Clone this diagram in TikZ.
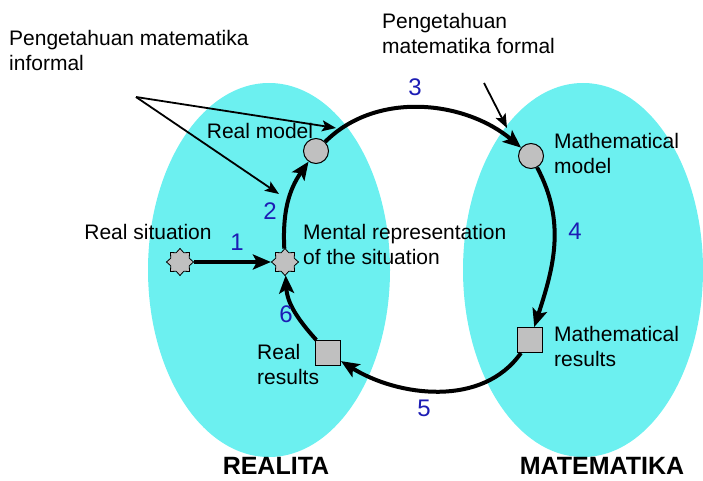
\documentclass[tikz,border=0pt]{standalone}
\usepackage{fontspec}
\setmainfont{Liberation Sans}
\usetikzlibrary{arrows.meta, positioning, shapes.geometric}
\definecolor{sheetcyan}{RGB}{108,240,240}
\definecolor{markgray}{RGB}{192,192,192}
\definecolor{stepblue}{RGB}{28,28,180}

\begin{document}
\begin{tikzpicture}[x=1pt, y=1pt, font=\fontsize{21}{25}\selectfont,
  starmark/.style={draw, star, star points=8, star point ratio=1.35, fill=markgray, minimum size=27pt, inner sep=0pt, line width=0.8pt},
  dotmark/.style={draw, circle, fill=markgray, minimum size=25pt, inner sep=0pt, line width=1pt},
  boxmark/.style={draw, rectangle, fill=markgray, minimum size=25pt, inner sep=0pt, line width=1pt},
  cycle/.style={line width=4pt, -{Stealth[length=18pt, width=15pt, inset=4pt]}},
  pointer/.style={line width=1.8pt, -{Stealth[length=14pt, width=11pt, inset=3pt]}},
  stepnum/.style={text=stepblue, font=\fontsize{24}{28}\selectfont},
  caption/.style={align=left, inner sep=0pt}]
  \useasboundingbox (0,0) rectangle (703,480);

  % Two worlds
  \fill[sheetcyan] (269,210) ellipse [x radius=121, y radius=187];
  \fill[sheetcyan] (583,210) ellipse [x radius=120, y radius=187];
  \node[font=\fontsize{25}{30}\selectfont\bfseries] (realita) at (276,14) {REALITA};
  \node[font=\fontsize{25}{30}\selectfont\bfseries] (matematika) at (602,14) {MATEMATIKA};

  % Stages of the cycle
  \node[starmark] (situation) at (180,218) {};
  \node[starmark] (mental) at (285,218) {};
  \node[dotmark] (realmodel) at (316,329) {};
  \node[dotmark] (mathmodel) at (531,324) {};
  \node[boxmark] (mathresults) at (530,140) {};
  \node[boxmark] (realresults) at (328,127) {};

  \node[caption, anchor=center] (situationtext) at (148,248) {Real situation};
  \node[caption, anchor=west] (mentaltext) at (303,236) {Mental representation\\of the situation};
  \node[caption, anchor=center] (realmodeltext) at (260,349) {Real model};
  \node[caption, anchor=west] (mathmodeltext) at (554,327) {Mathematical\\model};
  \node[caption, anchor=west] (mathresultstext) at (554,134) {Mathematical\\results};
  \node[caption, anchor=west] (realresultstext) at (257,116) {Real\\results};

  % Arrows of the cycle
  \draw[cycle] (situation) -- (mental);
  \draw[cycle] (mental) to[out=93, in=235] (realmodel);
  \draw[cycle] (realmodel) to[out=45, in=140, looseness=0.95] (mathmodel);
  \draw[cycle] (mathmodel) to[out=-62, in=72] (mathresults);
  \draw[cycle] (mathresults) to[out=-125, in=-32, looseness=0.95] (realresults);
  \draw[cycle] (realresults) to[out=132, in=-87] (mental);

  \node[stepnum] (one) at (237,238) {1};
  \node[stepnum] (two) at (270,269) {2};
  \node[stepnum] (three) at (415,393) {3};
  \node[stepnum] (four) at (575,249) {4};
  \node[stepnum] (five) at (424,72) {5};
  \node[stepnum] (six) at (286,166) {6};

  % Knowledge labels
  \node[caption, anchor=west] (informal) at (9,430) {Pengetahuan matematika\\informal};
  \node[caption, anchor=west] (formal) at (382,447) {Pengetahuan\\matematika formal};
  \coordinate (informaltip) at (136,383);
  \coordinate (formaltip) at (484,397);
  \coordinate (modelhit) at (336,352);
  \coordinate (arrowhit) at (279,286);
  \coordinate (formalhit) at (507,352);
  \draw[pointer] (informaltip) -- (modelhit);
  \draw[pointer] (informaltip) -- (arrowhit);
  \draw[pointer] (formaltip) -- (formalhit);
\end{tikzpicture}
\end{document}
